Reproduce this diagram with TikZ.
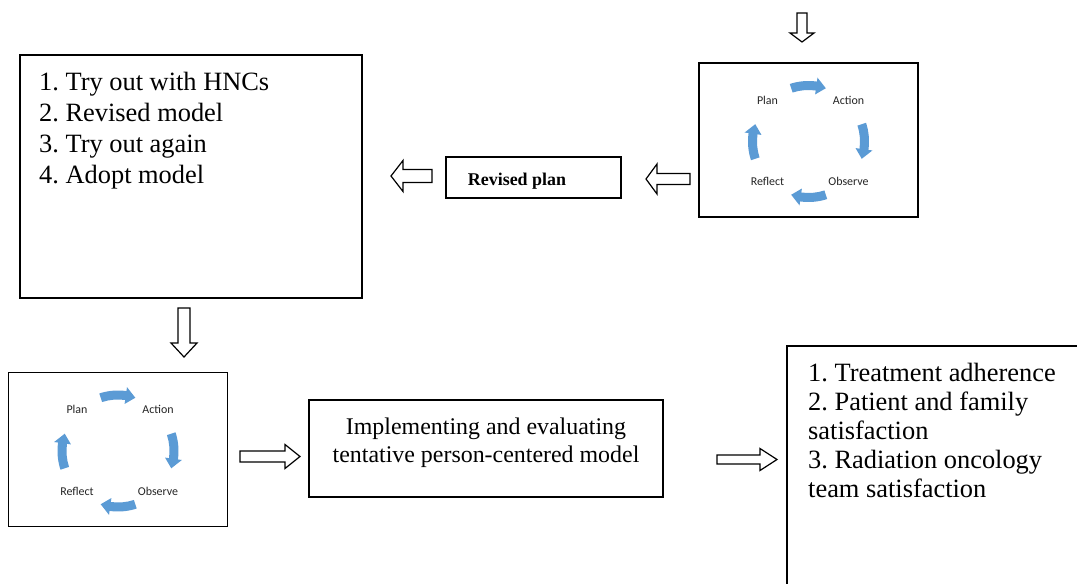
\documentclass[tikz,border=0pt]{standalone}
\usepackage{fontspec}
\setmainfont{Liberation Serif}
\newfontfamily\cycfont{Carlito}
\usetikzlibrary{calc}
\definecolor{cycblue}{HTML}{5B9BD5}

% hollow block arrow from #1 to #2: half shaft width #3, half head width #4, head length #5
\newcommand\hollowarrow[5]{%
  \coordinate (ha-base) at ($(#2)!#5!(#1)$);
  \draw[hollow] ($(#1)!#3!90:(#2)$) -- ($(ha-base)!#3!90:(#2)$)
    -- ($(ha-base)!#4!90:(#2)$) -- (#2) -- ($(ha-base)!#4!-90:(#2)$)
    -- ($(ha-base)!#3!-90:(#2)$) -- ($(#1)!#3!-90:(#2)$) -- cycle;}

% framed Plan / Action / Observe / Reflect cycle, named #1, centred at #2
\newcommand\cyclediagram[2]{%
  \node[cycframe] (#1) at (#2) {};
  \node[cyclabel] (#1-plan)    at ($(#1.center)+(-41,-40)$) {Plan};
  \node[cyclabel] (#1-action)  at ($(#1.center)+(40,-40)$)  {Action};
  \node[cyclabel] (#1-observe) at ($(#1.center)+(40,41.5)$) {Observe};
  \node[cyclabel] (#1-reflect) at ($(#1.center)+(-41,41.5)$) {Reflect};
  \begin{scope}[shift={($(#1.center)+(0,1.5)$)}, yscale=-1]
    \foreach \a in {90,0,-90,-180}
      \fill[cycarrow] ({\a+18}:60.5) arc[start angle=\a+18, end angle=\a-8, radius=60.5]
        -- ({\a-8}:64.5) -- ({\a-18}:56) -- ({\a-8}:47.5) -- ({\a-8}:51.5)
        arc[start angle=\a-8, end angle=\a+18, radius=51.5] -- cycle;
  \end{scope}}

\begin{document}
\frenchspacing
\begin{tikzpicture}[x=1bp, y=-1bp,
  framebox/.style={draw=black, line width=1.5bp, inner sep=0pt},
  cycframe/.style={framebox, minimum width=219bp, minimum height=154bp},
  cyclabel/.style={font=\cycfont\fontsize{12}{14}\selectfont, text=black!85, inner sep=0pt},
  cycarrow/.style={fill=cycblue},
  hollow/.style={draw=black, line width=1.2bp, fill=white, line join=miter},
  listtext/.style={font=\fontsize{26.5}{31}\selectfont, inner sep=0pt, anchor=base west},
  midtext/.style={font=\fontsize{24}{28}\selectfont, inner sep=0pt, anchor=base}]

\useasboundingbox (0,0) rectangle (1077,584);
\clip (0,0) rectangle (1077,584);
\fill[white] (0,0) rectangle (1077,584);

% top-left: trial steps
\node[framebox, minimum width=342bp, minimum height=243bp] (trial) at (191,176.5) {};
\foreach \t [count=\i from 0] in {1. Try out with HNCs, 2. Revised model, 3. Try out again, 4. Adopt model}
  \node[listtext] (trial-\i) at (39,{91+31*\i}) {\t};

% revised plan
\node[framebox, minimum width=175bp, minimum height=41bp] (revised) at (533.5,177.5) {};
\node[font=\bfseries\fontsize{18}{21}\selectfont, inner sep=0pt, anchor=base]
  (revised-label) at (517,186) {Revised plan};

% action research cycles
\cyclediagram{cycA}{808.5,140}
\cyclediagram{cycB}{118,449.5}

% implementation box
\node[framebox, minimum width=354bp, minimum height=97bp] (impl) at (486,448.5) {};
\node[midtext] (impl-1) at (486,434) {Implementing and evaluating};
\node[midtext] (impl-2) at (486,462) {tentative person-centered model};

% outcomes box (runs past the right and bottom edges)
\node[framebox, minimum width=320bp, minimum height=260bp] (outcome) at (947,476) {};
\foreach \t [count=\i from 0] in {1. Treatment adherence, 2. Patient and family, satisfaction,
    3. Radiation oncology, team satisfaction}
  \node[listtext] (outcome-\i) at (808,{381+29.2*\i}) {\t};

% block arrows
\coordinate (in-s) at (802,13);   \coordinate (in-e) at (802,42);
\coordinate (ra-s) at (690,179);  \coordinate (ra-e) at (646,179);
\coordinate (rb-s) at (432,176);  \coordinate (rb-e) at (391,176);
\coordinate (dn-s) at (184,308);  \coordinate (dn-e) at (184,357);
\coordinate (ha-s) at (240,456.5);\coordinate (ha-e) at (300,456.5);
\coordinate (hb-s) at (717,459.5);\coordinate (hb-e) at (777,459.5);
\hollowarrow{in-s}{in-e}{5bp}{12bp}{9bp}
\hollowarrow{ra-s}{ra-e}{5.5bp}{15bp}{11bp}
\hollowarrow{rb-s}{rb-e}{6.5bp}{15.5bp}{12bp}
\hollowarrow{dn-s}{dn-e}{6bp}{13bp}{14bp}
\hollowarrow{ha-s}{ha-e}{5.5bp}{12bp}{15bp}
\hollowarrow{hb-s}{hb-e}{4.5bp}{11bp}{17bp}
\end{tikzpicture}
\end{document}
